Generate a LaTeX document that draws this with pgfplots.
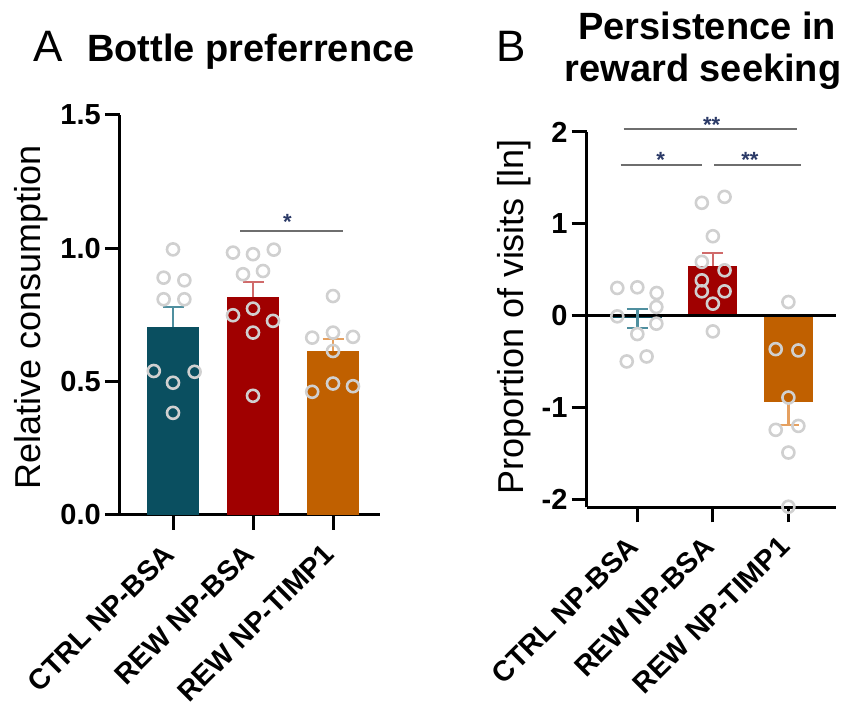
\documentclass[border=0pt]{standalone}
\usepackage{fontspec}
\setmainfont{Liberation Sans}
\usepackage{pgfplots}
\pgfplotsset{compat=1.18}
\definecolor{cteal}{HTML}{0A4F60}
\definecolor{cred}{HTML}{A00000}
\definecolor{corange}{HTML}{C06000}
\definecolor{eteal}{HTML}{4F8F9F}
\definecolor{ered}{HTML}{D06A6A}
\definecolor{eorange}{HTML}{E5A060}
\definecolor{dotgray}{HTML}{D0D0D0}
\definecolor{siggray}{HTML}{6E6E6E}
\definecolor{starcol}{HTML}{2B3A67}
\pgfplotsset{
  common/.style={
    scale only axis, clip=false,
    axis x line=bottom, axis y line=left,
    axis line style={line width=3pt,-},
    every tick/.style={black,line width=3pt},
    major tick length=15pt, tick align=outside,
    xtick={0,1,2},
    xticklabels={CTRL NP-BSA,REW NP-BSA,REW NP-TIMP1},
    xticklabel style={xshift=-11pt, yshift=-8pt, rotate=45,anchor=north east,inner sep=3pt,font=\fontsize{28.5}{30}\selectfont\bfseries},
    yticklabel style={font=\fontsize{29}{30}\selectfont\bfseries,inner sep=4pt},
    /pgf/number format/assume math mode=true,
  },
  pts/.style={only marks, mark=o, mark size=6pt, mark options={draw=dotgray, line width=2.6pt}},
  bar/.style={ybar, bar width=0.65, bar shift=0pt, draw=none, fill=#1},
  eb/.style 2 args={forget plot, mark=none,
    error bars/y dir=#1, error bars/y explicit,
    error bars/error bar style={line width=2.5pt, #2},
    error bars/error mark options={rotate=90, mark size=10.5pt, line width=2.5pt, #2}},
}
\begin{document}
\begin{tikzpicture}
% ---------- Panel A ----------
\begin{axis}[common, at={(120pt,196pt)}, anchor=south west,
  width=260pt, height=400pt,
  xmin=-0.6625, xmax=2.5875, ymin=0, ymax=1.5,
  ytick={0,0.5,1,1.5},
  yticklabel style={/pgf/number format/.cd, fixed, fixed zerofill, precision=1}]
\addplot[bar=cteal] coordinates {(0,0.705)};
\addplot[bar=cred] coordinates {(1,0.816)};
\addplot[bar=corange] coordinates {(2,0.614)};
\addplot[eb={plus}{eteal}] coordinates {(0,0.705) +- (0,0.075)};
\addplot[eb={plus}{ered}] coordinates {(1,0.816) +- (0,0.057)};
\addplot[eb={plus}{eorange}] coordinates {(2,0.614) +- (0,0.046)};
\addplot[pts] coordinates {(0,0.996) (-0.117,0.89) (0.142,0.88) (-0.117,0.809) (0.142,0.809) (-0.24,0.540) (0.27,0.537) (0,0.496) (0,0.383)};
\addplot[pts] coordinates {(0.75,0.984) (1,0.978) (1.26,0.995) (0.875,0.903) (1.125,0.915) (0.75,0.749) (1,0.774) (1.25,0.728) (1,0.684) (1,0.447)};
\addplot[pts] coordinates {(2,0.821) (1.74,0.665) (2,0.684) (2.25,0.668) (2,0.615) (1.74,0.462) (2,0.493) (2.25,0.483)};
\draw[siggray, line width=2pt] (axis cs:0.84,1.065) -- (axis cs:2.125,1.065);
\node[starcol, font=\fontsize{22}{22}\selectfont\bfseries] at (axis cs:1.43,1.1) {*};
\end{axis}
% ---------- Panel B ----------
\begin{axis}[common, at={(586.7pt,203.7pt)}, anchor=south west,
  width=249.3pt, height=375.3pt,
  xmin=-0.67, xmax=2.63, ymin=-2.086, ymax=2,
  ytick={-2,-1,0,1,2}]
\addplot[bar=cteal] coordinates {(0,-0.03)};
\addplot[bar=cred] coordinates {(1,0.538)};
\addplot[bar=corange] coordinates {(2,-0.935)};
\draw[black, line width=3pt] (axis cs:-0.67,0) -- (axis cs:2.63,0);
\addplot[eb={both}{eteal}] coordinates {(0,-0.03) +- (0,0.103)};
\addplot[eb={plus}{ered}] coordinates {(1,0.538) +- (0,0.146)};
\addplot[eb={minus}{eorange}] coordinates {(2,-0.935) +- (0,0.255)};
\addplot[pts] coordinates {(-0.265,0.302) (0,0.309) (0.256,0.247) (0.252,0.095) (-0.265,-0.007) (0.252,-0.087) (0,-0.2) (-0.14,-0.498) (0.123,-0.444)};
\addplot[pts] coordinates {(0.854,1.229) (1.155,1.294) (1,0.865) (0.854,0.586) (1.155,0.494) (0.854,0.385) (0.854,0.265) (1.155,0.265) (1,0.131) (1,-0.171)};
\addplot[pts] coordinates {(2,0.149) (1.832,-0.364) (2.132,-0.378) (2,-0.891) (1.832,-1.243) (2.132,-1.2) (2,-1.49) (2,-2.08)};
\draw[siggray, line width=2pt] (axis cs:-0.18,2.03) -- (axis cs:2.11,2.03);
\draw[siggray, line width=2pt] (axis cs:-0.22,1.646) -- (axis cs:0.853,1.646);
\draw[siggray, line width=2pt] (axis cs:1.016,1.646) -- (axis cs:2.164,1.646);
\node[starcol, font=\fontsize{22}{22}\selectfont\bfseries] at (axis cs:0.985,2.08) {**};
\node[starcol, font=\fontsize{22}{22}\selectfont\bfseries] at (axis cs:0.31,1.70) {*};
\node[starcol, font=\fontsize{22}{22}\selectfont\bfseries] at (axis cs:1.49,1.70) {**};
\end{axis}
% ---------- Titles and labels ----------
\node[anchor=base, font=\fontsize{44}{44}\selectfont] at (48pt,649pt) {A};
\node[anchor=base, font=\fontsize{38}{40}\selectfont\bfseries] at (251pt,649pt) {Bottle preferrence};
\node[anchor=base, font=\fontsize{44}{44}\selectfont] at (511pt,649pt) {B};
\node[anchor=base, font=\fontsize{38}{40}\selectfont\bfseries] at (707pt,671pt) {Persistence in};
\node[anchor=base, font=\fontsize{38}{40}\selectfont\bfseries] at (703pt,629pt) {reward seeking};
\node[rotate=90, font=\fontsize{36}{36}\selectfont] at (31pt,394pt) {Relative consumption};
\node[rotate=90, font=\fontsize{36}{36}\selectfont] at (514pt,394pt) {Proportion of visits [ln]};
\pgfresetboundingbox
\useasboundingbox (0pt,0pt) rectangle (847pt,711pt);
\end{tikzpicture}
\end{document}
